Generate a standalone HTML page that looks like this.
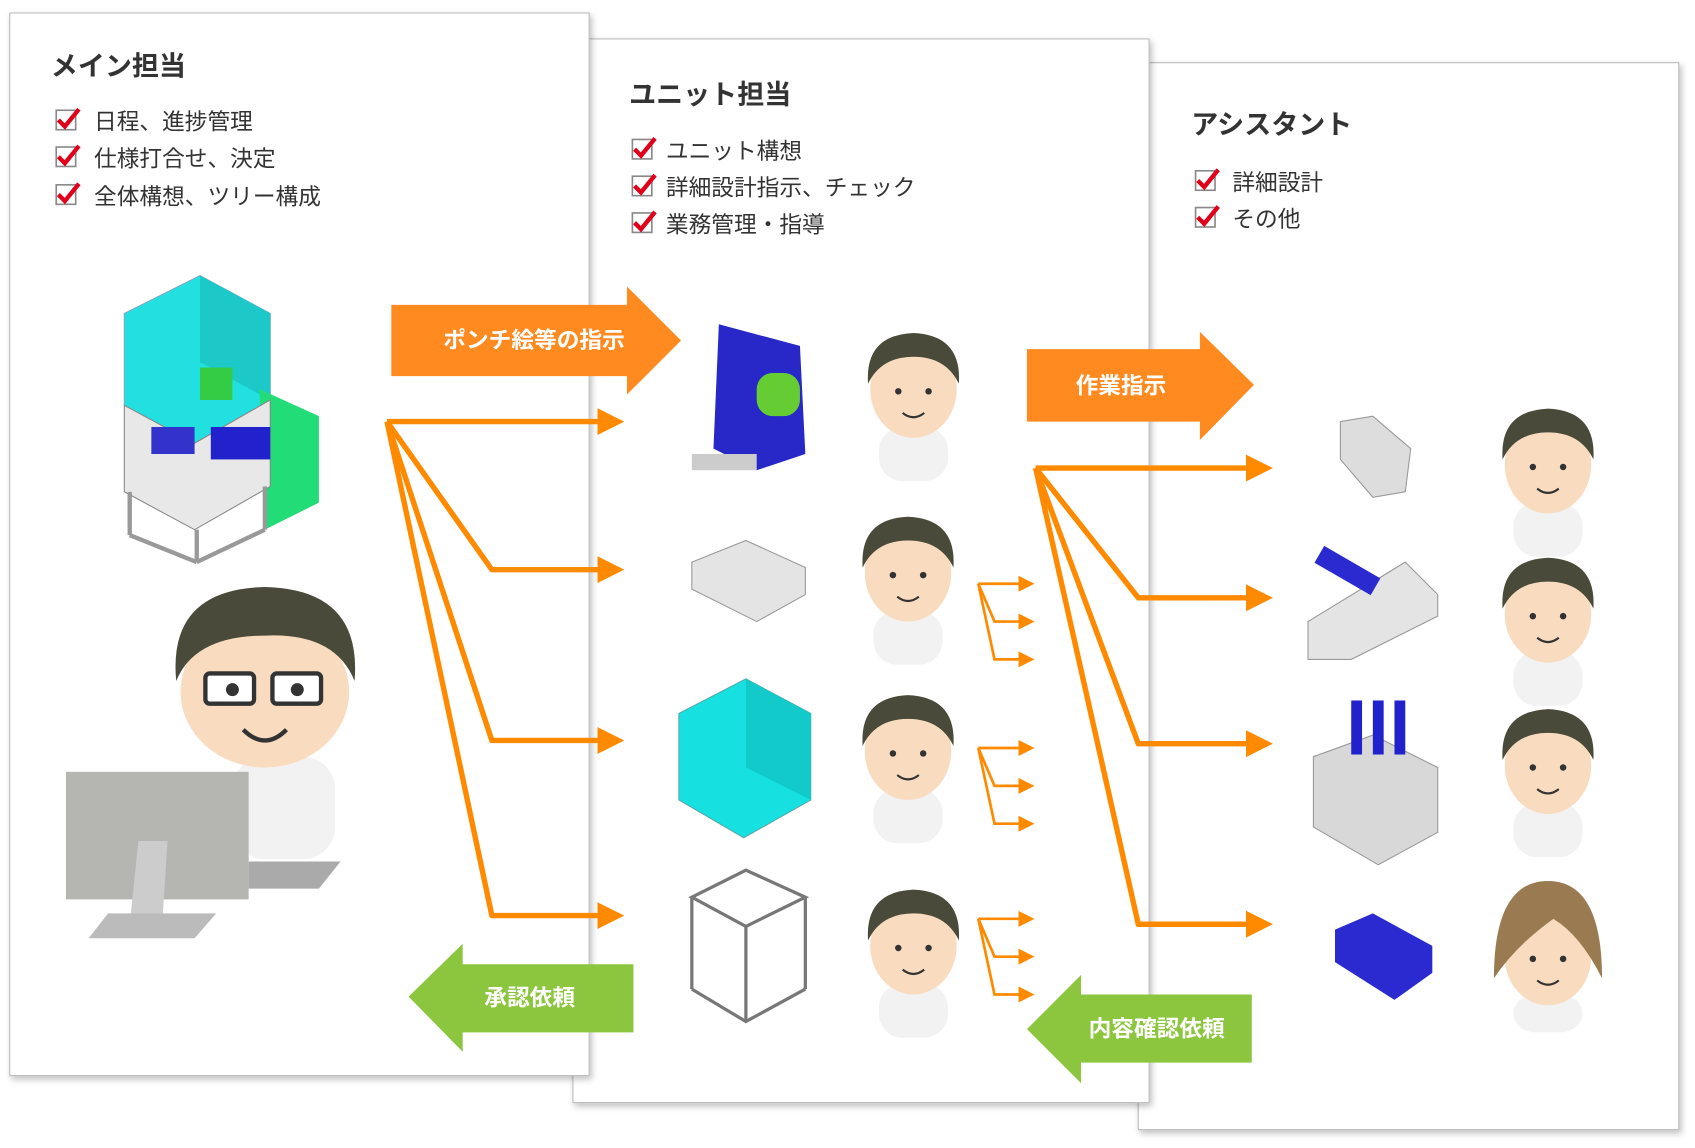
<!DOCTYPE html>
<html><head><meta charset="utf-8"><style>
html,body{margin:0;padding:0;background:#fff;width:1695px;height:1148px;overflow:hidden}
svg{display:block}
text{font-family:"Liberation Sans","Noto Sans CJK JP",sans-serif}
</style></head><body>
<svg width="1695" height="1148" viewBox="0 0 1568 1062" xmlns="http://www.w3.org/2000/svg">
<defs>
<filter id="sh" x="-5%" y="-5%" width="110%" height="110%"><feDropShadow dx="2" dy="3" stdDeviation="3" flood-color="#000" flood-opacity="0.25"/></filter>
<marker id="ah" markerWidth="5" markerHeight="5" refX="3.5" refY="2.5" orient="auto" markerUnits="strokeWidth"><path d="M0,0 L5,2.5 L0,5 z" fill="#ff8a00"/></marker>
<marker id="ah2" markerWidth="6" markerHeight="6" refX="4" refY="3" orient="auto" markerUnits="strokeWidth"><path d="M0,0 L6,3 L0,6 z" fill="#ff8a00"/></marker>
<g id="chk"><rect x="0" y="0" width="18" height="18" fill="#fff" stroke="#888" stroke-width="1.5"/><path d="M2,9 L8,15 L21,-1" fill="none" stroke="#e0001a" stroke-width="4"/></g>
<g id="face">
<rect x="-32" y="55" width="64" height="50" rx="22" fill="#f2f2f2"/>
<rect x="-10" y="45" width="20" height="18" fill="#f7d3b3"/>
<ellipse cx="0" cy="20" rx="40" ry="45" fill="#f9dcc0"/>
<path d="M-42,15 Q-45,-30 0,-32 Q45,-30 42,15 Q30,-10 0,-10 Q-30,-10 -42,15z" fill="#4a4a3a"/>
<circle cx="-14" cy="22" r="3" fill="#333"/><circle cx="14" cy="22" r="3" fill="#333"/>
<path d="M-10,42 Q0,50 10,42" stroke="#333" stroke-width="2" fill="none"/>
</g>
</defs>

<!-- panels -->
<rect x="1053" y="58" width="500" height="987" fill="#fff" stroke="#bbb" filter="url(#sh)"/>
<rect x="530" y="36" width="533" height="984" fill="#fff" stroke="#bbb" filter="url(#sh)"/>
<rect x="9" y="12" width="536" height="983" fill="#fff" stroke="#bbb" filter="url(#sh)"/>

<!-- panel 1 text -->
<text x="47" y="70" font-size="25" font-weight="bold" fill="#333">メイン担当</text>
<use href="#chk" x="52" y="102"/><text x="87" y="120" font-size="21" fill="#333">日程、進捗管理</text>
<use href="#chk" x="52" y="136"/><text x="87" y="154" font-size="21" fill="#333">仕様打合せ、決定</text>
<use href="#chk" x="52" y="171"/><text x="87" y="189" font-size="21" fill="#333">全体構想、ツリー構成</text>

<!-- panel 2 text -->
<text x="582" y="96" font-size="25" font-weight="bold" fill="#333">ユニット担当</text>
<use href="#chk" x="585" y="129"/><text x="616" y="147" font-size="21" fill="#333">ユニット構想</text>
<use href="#chk" x="585" y="163"/><text x="616" y="181" font-size="21" fill="#333">詳細設計指示、チェック</text>
<use href="#chk" x="585" y="197"/><text x="616" y="215" font-size="21" fill="#333">業務管理・指導</text>

<!-- panel 3 text -->
<text x="1102" y="124" font-size="25" font-weight="bold" fill="#333">アシスタント</text>
<use href="#chk" x="1106" y="158"/><text x="1140" y="176" font-size="21" fill="#333">詳細設計</text>
<use href="#chk" x="1106" y="192"/><text x="1140" y="210" font-size="21" fill="#333">その他</text>

<!-- main machine -->
<g>
<polygon points="115,290 185,255 250,290 250,370 180,410 115,375" fill="#22e0e0" stroke="#7ac" />
<polygon points="185,255 250,290 250,370 185,335" fill="#1cc8c8"/>
<polygon points="240,360 295,385 295,465 245,490" fill="#22dd77"/>
<polygon points="115,375 180,410 250,370 250,450 180,490 115,455" fill="#e8e8e8" stroke="#888"/>
<rect x="195" y="395" width="55" height="30" fill="#2222cc"/>
<rect x="140" y="395" width="40" height="25" fill="#3333cc"/>
<rect x="185" y="340" width="30" height="30" fill="#33cc44"/>
<g stroke="#999" stroke-width="4"><line x1="120" y1="455" x2="120" y2="495"/><line x1="182" y1="490" x2="182" y2="520"/><line x1="245" y1="450" x2="245" y2="490"/><line x1="120" y1="495" x2="182" y2="520"/><line x1="182" y1="520" x2="245" y2="490"/></g>
</g>

<!-- main person -->
<g>
<rect x="215" y="700" width="95" height="95" rx="30" fill="#f2f2f2"/>
<ellipse cx="245" cy="640" rx="78" ry="70" fill="#f9dcc0"/>
<path d="M163,630 Q155,545 245,543 Q335,545 328,630 Q310,585 245,588 Q180,588 163,630z" fill="#4a4a3a"/>
<rect x="190" y="623" width="45" height="28" rx="4" fill="#fff" stroke="#333" stroke-width="4"/>
<rect x="252" y="623" width="45" height="28" rx="4" fill="#fff" stroke="#333" stroke-width="4"/>
<circle cx="215" cy="638" r="6" fill="#333"/><circle cx="275" cy="638" r="6" fill="#333"/>
<path d="M225,675 Q245,695 265,675" stroke="#333" stroke-width="4" fill="none"/>
<rect x="61" y="714" width="169" height="118" fill="#b5b5b2"/>
<polygon points="230,797 315,797 295,822 230,822" fill="#aaa"/>
<polygon points="128,778 155,778 150,855 120,855" fill="#ccc"/>
<polygon points="100,845 200,845 180,868 82,868" fill="#bbb"/>
</g>

<!-- big orange arrows -->
<polygon points="362,282 580,282 580,265 630,315 580,365 580,348 362,348" fill="#ff8a1f"/>
<text x="494" y="322" font-size="21" font-weight="bold" fill="#fff" text-anchor="middle">ポンチ絵等の指示</text>
<polygon points="950,323 1110,323 1110,307 1160,356 1110,407 1110,390 950,390" fill="#ff8a1f"/>
<text x="1037" y="364" font-size="21" font-weight="bold" fill="#fff" text-anchor="middle">作業指示</text>

<!-- green arrows -->
<polygon points="586,892 428,892 428,873 378,922 428,973 428,955 586,955" fill="#8cc63f"/>
<text x="490" y="930" font-size="21" font-weight="bold" fill="#fff" text-anchor="middle">承認依頼</text>
<polygon points="1158,920 1000,920 1000,902 950,952 1000,1002 1000,983 1158,983" fill="#8cc63f"/>
<text x="1070" y="959" font-size="21" font-weight="bold" fill="#fff" text-anchor="middle">内容確認依頼</text>

<!-- connectors main -->
<g stroke="#ff8a00" stroke-width="5" fill="none" stroke-linejoin="round">
<polyline points="358,390 570,390" marker-end="url(#ah)"/>
<polyline points="358,390 455,527 570,527" marker-end="url(#ah)"/>
<polyline points="358,390 455,685 570,685" marker-end="url(#ah)"/>
<polyline points="358,390 455,847 570,847" marker-end="url(#ah)"/>
<polyline points="958,433 1170,433" marker-end="url(#ah)"/>
<polyline points="958,433 1053,553 1170,553" marker-end="url(#ah)"/>
<polyline points="958,433 1053,688 1170,688" marker-end="url(#ah)"/>
<polyline points="958,433 1053,855 1170,855" marker-end="url(#ah)"/>
</g>
<!-- small fans -->
<g stroke="#ff8a00" stroke-width="2.5" fill="none">
<g id="fan"><polyline points="905,540 952,540" marker-end="url(#ah2)"/><polyline points="905,540 920,575 952,575" marker-end="url(#ah2)"/><polyline points="905,540 920,610 952,610" marker-end="url(#ah2)"/></g>
<use href="#fan" y="152"/>
<use href="#fan" y="310"/>
</g>

<!-- unit illustrations -->
<g>
<polygon points="665,300 740,320 745,420 700,435 660,415" fill="#2828c8"/>
<rect x="700" y="345" width="40" height="40" rx="15" fill="#66cc33"/>
<rect x="640" y="420" width="60" height="15" fill="#ccc"/>
<polygon points="640,520 690,500 745,525 745,550 700,575 640,545" fill="#e4e4e4" stroke="#999"/>
<polygon points="628,660 690,628 750,660 750,740 688,775 628,740" fill="#17e0e0" stroke="#5aa"/>
<polygon points="690,628 750,660 750,740 690,710" fill="#12caca"/>
<g stroke="#777" stroke-width="3" fill="none"><polygon points="640,830 690,805 745,830 690,857"/><line x1="640" y1="830" x2="640" y2="915"/><line x1="690" y1="857" x2="690" y2="945"/><line x1="745" y1="830" x2="745" y2="915"/><polyline points="640,915 690,945 745,915"/></g>
</g>
<use href="#face" x="845" y="340"/>
<use href="#face" x="840" y="510"/>
<use href="#face" x="840" y="675"/>
<use href="#face" x="845" y="855"/>

<!-- assistant illustrations -->
<polygon points="1240,390 1270,385 1305,415 1300,455 1270,460 1240,425" fill="#ddd" stroke="#999"/>
<polygon points="1210,575 1300,520 1330,550 1330,570 1250,610 1210,610" fill="#e4e4e4" stroke="#999"/>
<rect x="1225" y="505" width="60" height="18" fill="#2a2ad0" transform="rotate(30 1225 505)"/>
<polygon points="1215,700 1270,680 1330,710 1330,770 1275,800 1215,765" fill="#d8d8d8" stroke="#999"/>
<rect x="1250" y="648" width="10" height="50" fill="#2222cc"/><rect x="1270" y="648" width="10" height="50" fill="#2222cc"/><rect x="1290" y="648" width="10" height="50" fill="#2222cc"/>
<polygon points="1235,860 1270,845 1325,875 1325,900 1290,925 1235,890" fill="#2a2ad0"/>
<use href="#face" x="1432" y="410"/>
<use href="#face" x="1432" y="548"/>
<use href="#face" x="1432" y="688"/>
<g transform="translate(1432,865)">
<rect x="-32" y="55" width="64" height="35" rx="20" fill="#f2f2f2"/>
<ellipse cx="0" cy="20" rx="40" ry="45" fill="#f9dcc0"/>
<path d="M-50,40 Q-50,-50 0,-50 Q50,-50 50,40 Q30,0 5,-15 Q-30,10 -50,40z" fill="#9a7a50"/>
<circle cx="-14" cy="22" r="3" fill="#333"/><circle cx="14" cy="22" r="3" fill="#333"/>
<path d="M-10,42 Q0,50 10,42" stroke="#333" stroke-width="2" fill="none"/>
</g>
</svg>
</body></html>
